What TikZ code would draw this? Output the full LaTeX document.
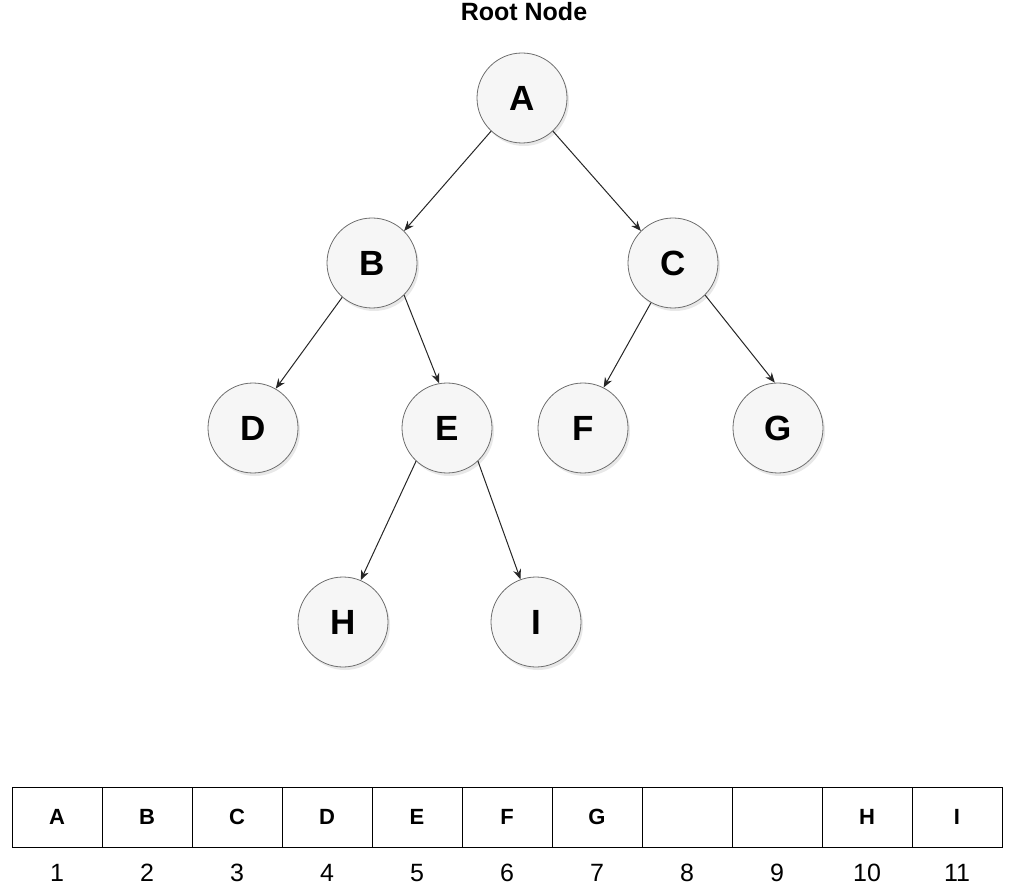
\documentclass[tikz,border=0pt]{standalone}
\usepackage{fontspec}
\setmainfont{Liberation Sans}
\usetikzlibrary{positioning, arrows.meta, shadows}
\definecolor{nodefill}{RGB}{246,246,246}
\definecolor{nodeline}{RGB}{110,110,110}
\tikzstyle{treenode} = [circle, minimum size=90pt, inner sep=0pt, draw=nodeline, line width=0.8pt, fill=nodefill, drop shadow={opacity=0.18, shadow xshift=2pt, shadow yshift=-3pt}, font=\fontsize{35}{40}\selectfont\bfseries]
\tikzstyle{cell} = [rectangle, minimum width=90pt, minimum height=60pt, inner sep=0pt, draw=black, line width=0.9pt, fill=white, font=\fontsize{22}{26}\selectfont\bfseries]
\tikzstyle{index} = [font=\fontsize{25}{29}\selectfont]
\tikzstyle{arrow} = [line width=1pt, draw=black!85, -{Stealth[length=10pt,width=8pt]}]

\begin{document}
\begin{tikzpicture}
[x=1pt, y=-1pt, nodes = {align = center},]
\useasboundingbox (0,0) rectangle (1023,890);

\node (title) at (524,12) [font=\fontsize{25}{29}\selectfont\bfseries] {Root Node};

% tree
\node (A) at (522,98) [treenode] {A};
\node (B) at (372,263) [treenode] {B};
\node (C) at (673,263) [treenode] {C};
\node (D) at (253,428) [treenode] {D};
\node (E) at (447,428) [treenode] {E};
\node (F) at (583,428) [treenode] {F};
\node (G) at (778,428) [treenode] {G};
\node (H) at (343,622) [treenode] {H};
\node (I) at (536,622) [treenode] {I};

\draw [arrow] (A.-133) -- (B.45);
\draw [arrow] (A.-47) -- (C.135);
\draw [arrow] (B.-131) -- (D.60);
\draw [arrow] (B.-45) -- (E.100);
\draw [arrow] (C.-119) -- (F.63);
\draw [arrow] (C.-45) -- (G.94);
\draw [arrow] (E.-133) -- (H.67);
\draw [arrow] (E.-47) -- (I.110);

% array
\foreach \lab [count=\i] in {A,B,C,D,E,F,G,{},{},H,I}{
  \node (cell\i) at ({57+90*(\i-1)},817) [cell] {\lab};
  \node (idx\i) [index, below=13pt of cell\i] {\i};
}
\end{tikzpicture}
\end{document}
